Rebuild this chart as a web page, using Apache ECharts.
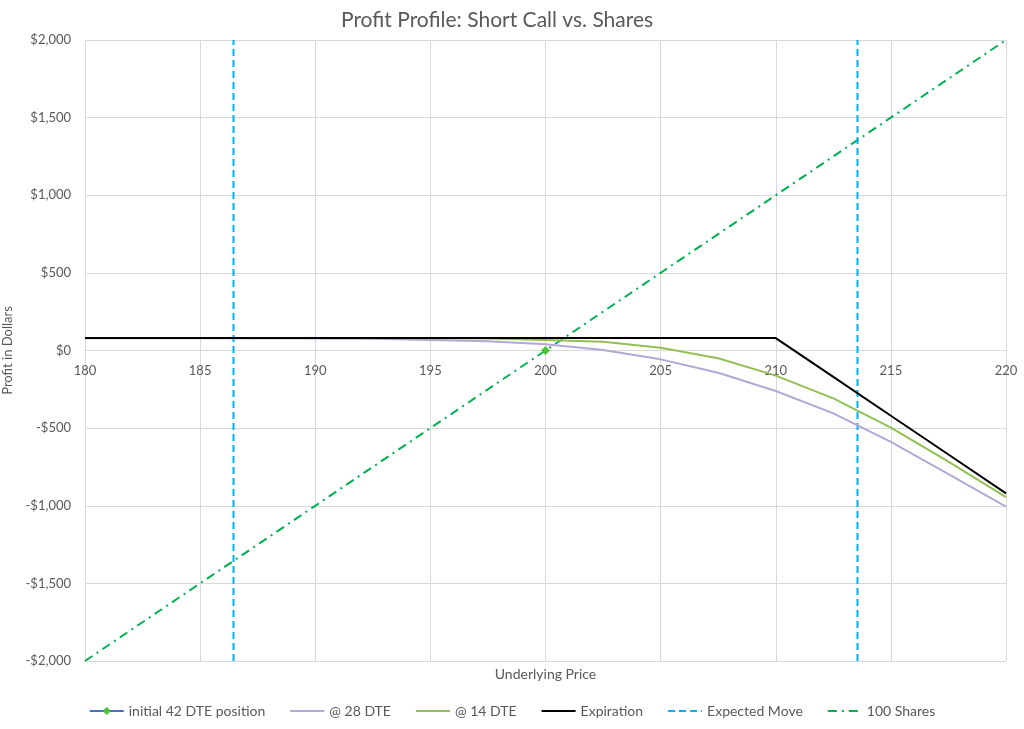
<!DOCTYPE html>
<html>
<head>
<meta charset="utf-8">
<script src="https://cdn.jsdelivr.net/npm/echarts@6/dist/echarts.min.js"></script>
<style>
  html, body { margin: 0; padding: 0; background: #fff; }
  #chart { width: 1024px; height: 729px; }
</style>
</head>
<body>
<div id="chart"></div>
<script>
// underlying prices where the option curves were sampled
const prices = [180, 182.5, 185, 187.5, 190, 192.5, 195, 197.5, 200, 202.5, 205, 207.5, 210, 212.5, 215, 217.5, 220];
const dte28 = [79, 79, 79, 78, 78, 76, 68, 59, 40, 3, -57, -143, -261, -405, -588, -796, -1005];
const dte14 = [80, 80, 80, 80, 80, 80, 79, 77, 67, 57, 18, -50, -162, -308, -497, -716, -945];
const expiration = [80, 80, 80, 80, 80, 80, 80, 80, 80, 80, 80, 80, 80, -170, -420, -670, -920];
const initialPos = [[200, 0]];
const expectedMoveLow = [[186.45, -2000], [186.45, 2000]];
const expectedMoveHigh = [[213.55, -2000], [213.55, 2000]];
const shares = [[180, -2000], [220, 2000]];

const yMin = -2000, yMax = 2000;
const pair = (ys) => prices.map((p, i) => [p, ys[i]]);
const textColor = '#595959';
const gridColor = '#d9d9d9';
const font = 'Lato, "Open Sans", sans-serif';

const gridBox = { left: 85, right: 18, top: 40, bottom: 68 };
const plotW = 1024 - gridBox.left - gridBox.right;
const plotH = 729 - gridBox.top - gridBox.bottom;
// lift the price axis (line + labels) up to the $0 level, like Excel does
const zeroOffset = -plotH * (0 - yMin) / (yMax - yMin);

function dollars(v) {
  const s = '$' + Math.abs(v).toLocaleString('en-US');
  return v < 0 ? '-' + s : s;
}

const noMarker = { opacity: 0 };

const chart = echarts.init(document.getElementById('chart'));
chart.setOption({
  animation: false,
  textStyle: { fontFamily: font },
  title: {
    text: 'Profit Profile: Short Call vs. Shares',
    left: 336,
    top: 5,
    textStyle: { color: textColor, fontSize: 21, fontWeight: 'normal', fontFamily: font }
  },
  legend: {
    bottom: 6,
    itemWidth: 34,
    itemHeight: 10,
    itemGap: 24,
    textStyle: { color: textColor, fontSize: 14, fontFamily: font },
    data: [
      { name: 'initial 42 DTE position' },
      { name: '@ 28 DTE', itemStyle: noMarker },
      { name: '@ 14 DTE', itemStyle: noMarker },
      { name: 'Expiration', itemStyle: noMarker },
      { name: 'Expected Move', itemStyle: noMarker },
      { name: '100 Shares', itemStyle: noMarker }
    ]
  },
  graphic: [{
    type: 'text',
    x: gridBox.left + plotW / 2,
    y: 667,
    style: { text: 'Underlying Price', fill: textColor, font: '14px ' + font, align: 'center' }
  }],
  grid: Object.assign({ outerBoundsMode: 'none' }, gridBox),
  xAxis: {
    type: 'value',
    min: 180,
    max: 220,
    interval: 5,
    position: 'bottom',
    offset: zeroOffset,
    axisLine: { onZero: false, lineStyle: { color: gridColor } },
    axisTick: { show: false },
    axisLabel: { color: textColor, fontSize: 13, margin: 14 },
    splitLine: { show: true, lineStyle: { color: gridColor } }
  },
  yAxis: {
    type: 'value',
    min: yMin,
    max: yMax,
    interval: 500,
    name: 'Profit in Dollars',
    nameLocation: 'middle',
    nameGap: 64,
    nameTextStyle: { color: textColor, fontSize: 13 },
    axisLine: { show: false },
    axisTick: { show: false },
    axisLabel: { color: textColor, fontSize: 13, margin: 14, formatter: dollars },
    splitLine: { show: true, lineStyle: { color: gridColor } }
  },
  series: [
    {
      name: '100 Shares',
      type: 'line',
      data: shares,
      symbol: 'none',
      itemStyle: { color: '#00b050' },
      lineStyle: { color: '#00b050', width: 2, type: [9, 5, 2, 5] },
      z: 1
    },
    {
      name: 'Expected Move',
      type: 'line',
      data: expectedMoveLow,
      symbol: 'none',
      itemStyle: { color: '#00b0f0' },
      lineStyle: { color: '#00b0f0', width: 2, type: [7, 4] },
      z: 1
    },
    {
      name: 'Expected Move',
      type: 'line',
      data: expectedMoveHigh,
      symbol: 'none',
      itemStyle: { color: '#00b0f0' },
      lineStyle: { color: '#00b0f0', width: 2, type: [7, 4] },
      z: 1
    },
    {
      name: '@ 28 DTE',
      type: 'line',
      data: pair(dte28),
      symbol: 'none',
      itemStyle: { color: '#b4a7d6' },
      lineStyle: { color: '#b4a7d6', width: 2 },
      z: 2
    },
    {
      name: '@ 14 DTE',
      type: 'line',
      data: pair(dte14),
      symbol: 'none',
      itemStyle: { color: '#92c055' },
      lineStyle: { color: '#92c055', width: 2 },
      z: 3
    },
    {
      name: 'Expiration',
      type: 'line',
      data: pair(expiration),
      symbol: 'none',
      itemStyle: { color: '#000000' },
      lineStyle: { color: '#000000', width: 2 },
      z: 4
    },
    {
      name: 'initial 42 DTE position',
      type: 'line',
      data: initialPos,
      symbol: 'diamond',
      symbolSize: 9,
      showSymbol: true,
      itemStyle: { color: '#4cc23a' },
      lineStyle: { color: '#4472c4', width: 2 },
      z: 5
    }
  ]
});
window.addEventListener('resize', function() {
  chart.resize();
});
</script>
</body>
</html>
